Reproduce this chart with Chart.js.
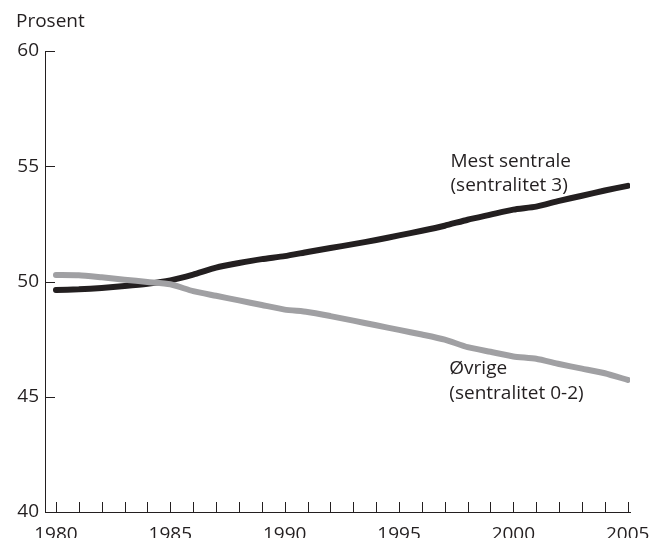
<!DOCTYPE html>
<html><head><meta charset="utf-8">
<script src="https://cdn.jsdelivr.net/npm/chart.js@4.4.1/dist/chart.umd.min.js"></script>
<style>html,body{margin:0;padding:0;background:#fff}#wrap{width:651px;height:538px}</style>
</head><body><div id="wrap"><canvas id="c" width="651" height="538"></canvas></div>
<script>
const years = [1980,1981,1982,1983,1984,1985,1986,1987,1988,1989,1990,1991,1992,1993,1994,1995,1996,1997,1998,1999,2000,2001,2002,2003,2004,2005];
const mestSentrale = [49.63,49.66,49.72,49.8,49.9,50.05,50.3,50.6,50.8,50.97,51.1,51.28,51.45,51.62,51.8,52.0,52.2,52.42,52.68,52.9,53.12,53.25,53.5,53.72,53.95,54.15];
const ovrige = [50.28,50.27,50.18,50.08,49.98,49.88,49.58,49.38,49.18,48.98,48.78,48.68,48.5,48.3,48.1,47.9,47.7,47.48,47.15,46.95,46.75,46.65,46.42,46.22,46.02,45.73];
const yTicks = [40,45,50,55,60];
const xLabelYears = [1980,1985,1990,1995,2000,2005];
const yTitle = "Prosent";
const labelMest = ["Mest sentrale","(sentralitet 3)"];
const labelOvrige = ["Øvrige","(sentralitet 0-2)"];

const FONT = "'Open Sans', sans-serif";
const FS = 19;
const INK = "#231f20";
const GREY = "#a0a0a3";

const decor = {
  id:'decor',
  afterDraw(chart){
    const ctx = chart.ctx, x = chart.scales.x, y = chart.scales.y;
    ctx.save();
    ctx.strokeStyle = INK; ctx.lineWidth = 1;
    years.forEach(v=>{
      const px = Math.round(x.getPixelForValue(v))+0.5;
      ctx.beginPath(); ctx.moveTo(px, y.bottom); ctx.lineTo(px, y.bottom-10); ctx.stroke();
    });
    yTicks.forEach(v=>{
      const py = Math.round(y.getPixelForValue(v))+0.5;
      ctx.beginPath(); ctx.moveTo(x.left, py); ctx.lineTo(x.left+10, py); ctx.stroke();
    });
    ctx.fillStyle = INK;
    ctx.font = FS + "px " + FONT;
    ctx.textBaseline = 'middle'; ctx.textAlign = 'left';
    ctx.fillText(yTitle, 16, 22);
    const lx = x.getPixelForValue(1997.25);
    ctx.fillText(labelMest[0], lx, y.getPixelForValue(55.2));
    ctx.fillText(labelMest[1], lx, y.getPixelForValue(54.15));
    const gx = x.getPixelForValue(1997.2);
    ctx.fillText(labelOvrige[0], gx, y.getPixelForValue(46.2));
    ctx.fillText(labelOvrige[1], gx, y.getPixelForValue(45.12));
    ctx.restore();
  }
};

new Chart(document.getElementById('c'), {
  type:'line',
  data:{
    datasets:[
      {label:'Øvrige', data: years.map((v,i)=>({x:v,y:ovrige[i]})), borderColor:GREY, borderWidth:6, pointRadius:0, tension:0.2, borderCapStyle:'round', borderJoinStyle:'round'},
      {label:'Mest sentrale', data: years.map((v,i)=>({x:v,y:mestSentrale[i]})), borderColor:INK, borderWidth:6, pointRadius:0, tension:0.2, borderCapStyle:'round', borderJoinStyle:'round'}
    ]
  },
  options:{
    responsive:false, animation:false,
    layout:{padding:{top:51,right:21,left:0,bottom:0}},
    plugins:{legend:{display:false}, tooltip:{enabled:false}},
    scales:{
      x:{type:'linear', min:1979.52, max:2005.1,
        afterBuildTicks(s){ s.ticks = xLabelYears.map(v=>({value:v})); },
        afterFit(s){ s.height = 26; s.paddingLeft = 0; s.paddingRight = 0; },
        grid:{display:false, drawTicks:false},
        border:{display:true, color:INK, width:1},
        ticks:{padding:11, color:INK, font:{family:FONT, size:FS}, maxRotation:0, autoSkip:false, callback:v=>String(v)}
      },
      y:{min:40, max:60,
        afterBuildTicks(s){ s.ticks = yTicks.map(v=>({value:v})); },
        afterFit(s){ s.width = 45; s.paddingTop = 0; s.paddingBottom = 0; },
        grid:{display:false, drawTicks:false},
        border:{display:true, color:INK, width:1},
        ticks:{padding:6, color:INK, font:{family:FONT, size:FS}, callback:v=>String(v)}
      }
    }
  },
  plugins:[decor]
});
</script></body></html>
